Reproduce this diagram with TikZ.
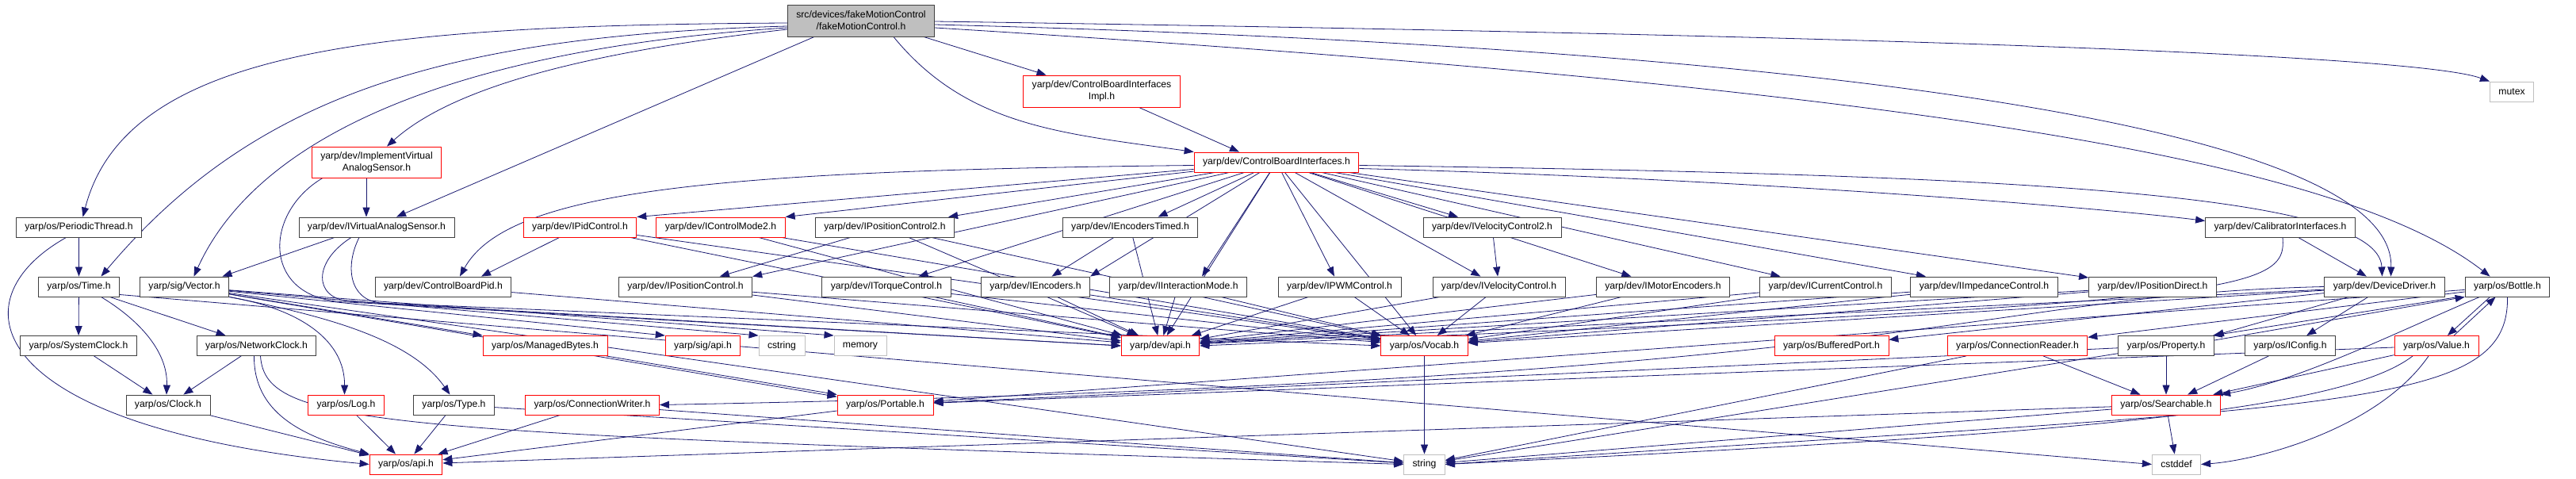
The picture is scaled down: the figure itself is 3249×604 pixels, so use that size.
\documentclass[tikz,border=0pt]{standalone}
\usepackage{fontspec}
\setsansfont{Liberation Sans}
\usetikzlibrary{arrows.meta, backgrounds}
\definecolor{edgeblue}{HTML}{191970}
\definecolor{boxdark}{HTML}{404040}
\definecolor{boxred}{HTML}{FF0000}
\definecolor{boxlight}{HTML}{BFBFBF}
\definecolor{mainfill}{HTML}{BFBFBF}

\begin{document}
\begin{tikzpicture}[
    x=1pt, y=-1pt,
    every node/.style={font=\sffamily\fontsize{12.2}{15}\selectfont},
    hdr/.style={draw=boxdark, fill=white, line width=0.9pt, inner xsep=11pt, inner ysep=4pt, minimum height=25pt, align=center},
    hdrred/.style={hdr, draw=boxred},
    hdrsys/.style={hdr, draw=boxlight},
    hdrmain/.style={hdr, fill=mainfill, minimum height=40pt},
    dep/.style={draw=edgeblue, line width=0.8pt, -{Triangle[length=12pt, width=9pt]}},
]

\useasboundingbox (0,0) rectangle (3249,604);

% === Top: the file itself ===
\node[hdrmain] (main) at (1086,26) {src/devices/fakeMotionControl\\/fakeMotionControl.h};
\node[hdrred, minimum height=40pt] (cbiimpl) at (1389.5,115) {yarp/dev/ControlBoardInterfaces\\Impl.h};
\node[hdrsys] (mutex) at (3168,115.5) {mutex};
\node[hdrred, minimum height=39pt] (implvas) at (475,204.5) {yarp/dev/ImplementVirtual\\AnalogSensor.h};
\node[hdrred] (cbi) at (1610,204.5) {yarp/dev/ControlBoardInterfaces.h};

% === Row 1 ===
\node[hdr] (pthread) at (99.5,286.5) {yarp/os/PeriodicThread.h};
\node[hdr] (ivas) at (475,286.5) {yarp/dev/IVirtualAnalogSensor.h};
\node[hdrred] (ipid) at (731.5,286.5) {yarp/dev/IPidControl.h};
\node[hdrred] (icm2) at (909,286.5) {yarp/dev/IControlMode2.h};
\node[hdr] (ipc2) at (1116,286.5) {yarp/dev/IPositionControl2.h};
\node[hdr] (ienct) at (1425.5,286.5) {yarp/dev/IEncodersTimed.h};
\node[hdr] (ivc2) at (1882,286.5) {yarp/dev/IVelocityControl2.h};
\node[hdr] (calib) at (2876,286.5) {yarp/dev/CalibratorInterfaces.h};

% === Row 2 ===
\node[hdr] (time) at (99.5,361.5) {yarp/os/Time.h};
\node[hdr] (vector) at (232.5,361.5) {yarp/sig/Vector.h};
\node[hdr] (cbpid) at (559,361.5) {yarp/dev/ControlBoardPid.h};
\node[hdr] (ipc) at (864.5,361.5) {yarp/dev/IPositionControl.h};
\node[hdr] (itorque) at (1118,361.5) {yarp/dev/ITorqueControl.h};
\node[hdr] (ienc) at (1306,361.5) {yarp/dev/IEncoders.h};
\node[hdr] (iim) at (1486,361.5) {yarp/dev/IInteractionMode.h};
\node[hdr] (ipwm) at (1689.5,361.5) {yarp/dev/IPWMControl.h};
\node[hdr] (ivc) at (1890.5,361.5) {yarp/dev/IVelocityControl.h};
\node[hdr] (imenc) at (2097.5,361.5) {yarp/dev/IMotorEncoders.h};
\node[hdr] (icur) at (2302.5,361.5) {yarp/dev/ICurrentControl.h};
\node[hdr] (iimp) at (2502.5,361.5) {yarp/dev/IImpedanceControl.h};
\node[hdr] (ipd) at (2715,361.5) {yarp/dev/IPositionDirect.h};
\node[hdr] (devdrv) at (3007.5,361.5) {yarp/dev/DeviceDriver.h};
\node[hdr] (bottle) at (3162.5,361.5) {yarp/os/Bottle.h};

% === Row 3 ===
\node[hdr] (sysclock) at (99,436) {yarp/os/SystemClock.h};
\node[hdr] (netclock) at (323.5,436) {yarp/os/NetworkClock.h};
\node[hdrred] (mbytes) at (687.5,436) {yarp/os/ManagedBytes.h};
\node[hdrred] (sigapi) at (886.5,436) {yarp/sig/api.h};
\node[hdrsys] (cstring) at (986,436) {cstring};
\node[hdrsys] (memory) at (1085,436) {memory};
\node[hdrred] (devapi) at (1463.5,436) {yarp/dev/api.h};
\node[hdrred] (vocab) at (1796.5,436) {yarp/os/Vocab.h};
\node[hdrred] (bport) at (2310,436) {yarp/os/BufferedPort.h};
\node[hdrred] (creader) at (2544.5,436) {yarp/os/ConnectionReader.h};
\node[hdr] (property) at (2732,436) {yarp/os/Property.h};
\node[hdr] (iconfig) at (2888.5,436) {yarp/os/IConfig.h};
\node[hdrred] (value) at (3073,436) {yarp/os/Value.h};

% === Row 4 ===
\node[hdr] (clock) at (212,510.5) {yarp/os/Clock.h};
\node[hdrred] (log) at (436.5,510.5) {yarp/os/Log.h};
\node[hdr] (type) at (572.5,510.5) {yarp/os/Type.h};
\node[hdrred] (cwriter) at (747,510.5) {yarp/os/ConnectionWriter.h};
\node[hdrred] (portable) at (1116.5,510.5) {yarp/os/Portable.h};
\node[hdrred] (searchable) at (2732,510.5) {yarp/os/Searchable.h};

% === Row 5 ===
\node[hdrred] (osapi) at (512,585.5) {yarp/os/api.h};
\node[hdrsys] (string) at (1796.5,585.5) {string};
\node[hdrsys] (cstddef) at (2745,585.5) {cstddef};

\begin{scope}[on background layer]
% === Includes of the file itself ===
\draw[dep] ([yshift=-3pt]main.west) .. controls (480,32) and (160,60) .. ([xshift=5pt]pthread.north);
\draw[dep] ([yshift=-7pt]main.west) .. controls (560,45) and (320,120) .. ([xshift=28pt]time.north);
\draw[dep] ([yshift=-9pt]main.west) .. controls (600,60) and (330,160) .. ([xshift=12pt]vector.north);
\draw[dep] ([yshift=-11pt]main.west) .. controls (700,70) and (560,120) .. ([xshift=13pt]implvas.north);
\draw[dep] ([xshift=-59pt]main.south) -- ([xshift=25pt]ivas.north);
\draw[dep] ([xshift=41pt]main.south) .. controls (1220,160) and (1340,168) .. (cbi.north west);
\draw[dep] ([xshift=79pt]main.south) -- ([xshift=-70pt]cbiimpl.north);
\draw[dep] ([xshift=47pt]cbiimpl.south) -- ([xshift=-47pt]cbi.north);
\draw[dep] ([yshift=-1pt]main.east) .. controls (2400,45) and (3050,70) .. (mutex.north west);
\draw[dep] ([yshift=-5pt]main.east) .. controls (2300,60) and (3020,160) .. ([xshift=8pt]devdrv.north);
\draw[dep] ([yshift=-9pt]main.east) .. controls (2400,110) and (2950,200) .. ([xshift=-22pt]bottle.north);

% === ControlBoardInterfaces ===
\draw[dep] ([yshift=-4pt]cbi.east) .. controls (2500,220) and (3000,240) .. ([xshift=-3pt]devdrv.north);
\draw[dep] ([yshift=-8pt]cbi.east) .. controls (2200,225) and (2650,262) .. ([yshift=8pt]calib.west);
\draw[dep] ([yshift=-4pt]cbi.west) .. controls (900,215) and (640,240) .. ([xshift=21pt]cbpid.north);
\path (cbi) edge[dep] (ipid.north east) edge[dep] (icm2.north east)
      edge[dep] ([xshift=-8pt]ipc2.north east) edge[dep] ([xshift=35pt]ienct.north)
      edge[dep] (ipc.north east) edge[dep] (itorque) edge[dep] (ienc.north east)
      edge[dep] ([xshift=30pt]iim.north) edge[dep] (ipwm) edge[dep] (ivc2)
      edge[dep] (ivc) edge[dep] (imenc) edge[dep] (icur) edge[dep] (iimp)
      edge[dep] (ipd) edge[dep] (devapi) edge[dep] (vocab);

% === Virtual analog sensor ===
\draw[dep] ([xshift=-13pt]implvas.south) -- ([xshift=-13pt]ivas.north);
\draw[dep] ([xshift=-68pt]implvas.south) .. controls (330,270) and (330,380) .. (440,381) -- (devapi.west);
\draw[dep] ([xshift=-53pt]ivas.south) -- ([xshift=48pt]vector.north);
\draw[dep] ([xshift=-32pt]ivas.south) .. controls (395,330) and (395,375) .. (440,380) -- (devapi.west);
\draw[dep] ([xshift=-22pt]ivas.south) .. controls (435,335) and (440,378) .. (480,382) -- (vocab.west);

% === Time and clocks ===
\draw[dep] (pthread) -- (time);
\draw[dep] ([xshift=-16pt]pthread.south) .. controls (-60,380) and (-20,540) .. (osapi.west);
\draw[dep] (time) -- (sysclock);
\draw[dep] ([xshift=28pt]time.south) .. controls (170,400) and (212,440) .. ([xshift=-2pt]clock.north);
\draw[dep] (time) -- (netclock);
\draw[dep] ([yshift=-10pt]time.east) -- (cstddef.west);
\draw[dep] (sysclock) -- (clock);
\draw[dep] (netclock) -- (clock);
\draw[dep] ([xshift=-3pt]netclock.south) .. controls (320,520) and (380,550) .. (osapi.north west);
\draw[dep] ([xshift=5pt]netclock.south) .. controls (335,540) and (480,545) .. (string.west);
\path (clock) edge[dep] (osapi);
\path (log) edge[dep] (osapi);
\path (type) edge[dep] (osapi) edge[dep] (string);
\path (cwriter) edge[dep] (osapi) edge[dep] (string);
\path (portable) edge[dep] (osapi);

% === Vector ===
\path (vector) edge[dep] (mbytes.north west) edge[dep] (sigapi.north west)
      edge[dep] (cstring.north west) edge[dep] (memory.north west)
      edge[dep] (portable) edge[dep] (string);
\draw[dep] (vector.south east) .. controls (380,390) and (435,430) .. ([xshift=-2pt]log.north);
\draw[dep] (vector.south east) .. controls (420,400) and (520,430) .. ([xshift=-5pt]type.north);
\draw[dep] (mbytes) -- (portable.north west);

% === Control interfaces ===
\draw[dep] (ipid) -- ([xshift=48pt]cbpid.north);
\path (ipid) edge[dep] (devapi) edge[dep] (vocab);
\path (icm2) edge[dep] (devapi) edge[dep] (vocab);
\path (ipc2) edge[dep] (ipc) edge[dep] (devapi) edge[dep] (vocab);
\path (ienct) edge[dep] (ienc) edge[dep] (devapi);
\draw[dep] (ivc2) -- (ivc);
\draw[dep] (calib) -- (devdrv);
\draw[dep] ([xshift=3pt]calib.south) .. controls (2885,370) and (2820,382) .. (devapi.east);
\path (cbpid) edge[dep] (devapi);
\path (ipc) edge[dep] (devapi) edge[dep] (vocab);
\path (itorque) edge[dep] (devapi) edge[dep] (vocab);
\path (ienc) edge[dep] (devapi) edge[dep] (vocab);
\path (iim) edge[dep] (devapi) edge[dep] (vocab);
\path (ipwm) edge[dep] (devapi) edge[dep] (vocab);
\path (ivc) edge[dep] (devapi) edge[dep] (vocab);
\path (imenc) edge[dep] (devapi) edge[dep] (vocab);
\path (icur) edge[dep] (devapi) edge[dep] (vocab);
\path (iimp) edge[dep] (devapi) edge[dep] (vocab);
\path (ipd) edge[dep] (devapi) edge[dep] (vocab);
\path (devdrv) edge[dep] (devapi) edge[dep] (vocab);
\draw[dep] (vocab) -- (string);

% === Device driver, Bottle, Property ===
\path (devdrv) edge[dep] (property.north east) edge[dep] (iconfig) edge[dep] (bport);
\draw[dep] (devdrv.west) .. controls (2480,372) and (2440,480) .. (cwriter.east);
\path (bottle) edge[dep] (creader) edge[dep] (portable);
\draw[dep] ([xshift=-8pt]bottle.south west) -- ([xshift=-2pt]property.north east);
\draw[dep] ([yshift=-6pt]property.north east) -- (bottle.south west);
\draw[dep] ([xshift=-22pt]bottle.south) -- ([xshift=14pt]value.north);
\draw[dep] ([xshift=22pt]value.north) -- ([xshift=-15pt]bottle.south);
\draw[dep] ([xshift=-35pt]bottle.south) .. controls (3020,420) and (2900,480) .. (searchable.north east);
\draw[dep] (bottle.south) .. controls (3165,520) and (2950,510) .. (string.east);
\path (value) edge[dep] (portable) edge[dep] (searchable);
\draw[dep] ([xshift=-10pt]value.south) .. controls (3000,540) and (2850,580) .. (cstddef.east);
\draw[dep] ([xshift=-30pt]value.south) .. controls (2950,520) and (2600,548) .. (string.east);
\path (property) edge[dep] (searchable) edge[dep] (string) edge[dep] (portable);
\draw[dep] (iconfig) -- (searchable);
\path (creader) edge[dep] (searchable) edge[dep] (string);
\path (searchable) edge[dep] (cstddef) edge[dep] (string) edge[dep] (osapi);
\end{scope}

\end{tikzpicture}
\end{document}
